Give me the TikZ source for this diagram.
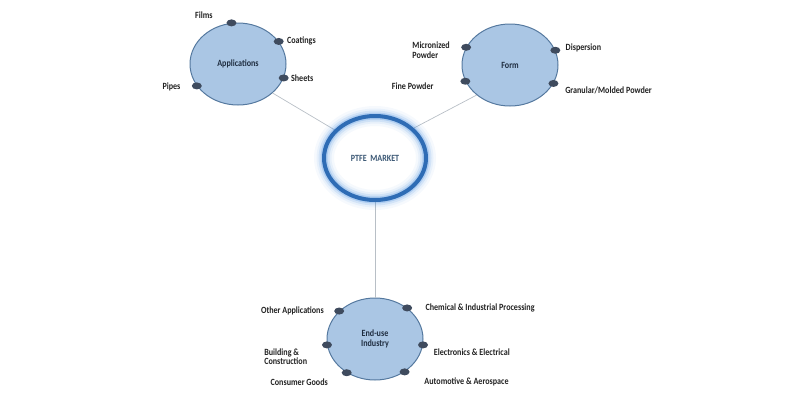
\documentclass[tikz,border=0pt]{standalone}
\usepackage{fontspec}
\setmainfont{Carlito}[FakeStretch=0.85]
\usetikzlibrary{positioning,shapes.geometric}

\definecolor{bubble}{HTML}{AAC6E4}
\definecolor{rim}{HTML}{55799F}
\definecolor{pin}{HTML}{3F4B5E}
\definecolor{wire}{HTML}{B8BFC6}
\definecolor{ink}{HTML}{222222}
\definecolor{navy}{HTML}{1F2D40}
\definecolor{halo}{HTML}{4A8FE0}
\definecolor{ringblue}{HTML}{2E6CB5}
\definecolor{hub}{HTML}{3B5875}

\begin{document}
\begin{tikzpicture}[x=1pt, y=-1pt, node distance=4pt,
	seg/.style={ellipse, draw=rim, fill=bubble, line width=1pt, minimum width=96pt,
		minimum height=82pt, inner sep=0pt, text=navy, align=center,
		font=\bfseries\fontsize{9.5}{10.5}\selectfont},
	dot/.style={ellipse, fill=pin, minimum width=10pt, minimum height=7pt, inner sep=0pt},
	lbl/.style={inner sep=1pt, text=ink, align=left, font=\bfseries\fontsize{9.5}{10.5}\selectfont},
	link/.style={draw=wire, line width=0.7pt}]

	\useasboundingbox (0,0) rectangle (800,400);

	% Circles {hub, applications, form, end-use}
	\node [ellipse, fill=white, minimum width=102pt, minimum height=84pt, text=hub,
		font=\bfseries\fontsize{9.5}{10.5}\selectfont] (ptfe) at (375,158) {PTFE\ \ MARKET};
	\node [seg] (app) at (238,64)  {Applications};
	\node [seg] (form) at (510,65) {Form};
	\node [seg] (eu)  at (375,339) {End-use\\Industry};

	% Paths
	\path [link] (app.-40)   -- (ptfe.145);
	\path [link] (form.222)  -- (ptfe.38);
	\path [link] (ptfe.south) -- (eu.north);

	% Glow round the hub
	\foreach \w/\o in {20/0.05, 15/0.08, 11/0.14, 7/0.25}
		\draw [halo, line width=\w pt, opacity=\o] (ptfe.center) ellipse [x radius=51, y radius=42];
	\draw [ringblue, line width=4pt] (ptfe.center) ellipse [x radius=51, y radius=42];

	% Dots on Applications
	\node [dot] (films) at (app.99)  {};
	\node [dot] (coat)  at (app.29)  {};
	\node [dot] (sheet) at (app.-17) {};
	\node [dot] (pipe)  at (app.208) {};
	\node [lbl] [above left=0pt and 14pt of films] {Films};
	\node [lbl] [right=2pt of coat]  {Coatings};
	\node [lbl] [right=1pt of sheet] {Sheets};
	\node [lbl, yshift=-1pt] [left=10pt of pipe]  {Pipes};

	% Dots on Form
	\node [dot] (micro) at (form.158) {};
	\node [dot] (fine)  at (form.200) {};
	\node [dot] (disp)  at (form.18)  {};
	\node [dot] (gran)  at (form.-23) {};
	\node [lbl, yshift=-3pt] [left=10pt of micro] {Micronized\\[-1pt]Powder};
	\node [lbl] [below left=-2pt and 27pt of fine] {Fine Powder};
	\node [lbl, yshift=2pt] [right=4pt of disp] {Dispersion};
	\node [lbl] [below right=0pt and 7pt of gran] {Granular/Molded Powder};

	% Dots on End-use
	\node [dot] (other) at (eu.142) {};
	\node [dot] (chem)  at (eu.44)  {};
	\node [dot] (build) at (eu.187) {};
	\node [dot] (elec)  at (eu.-7)  {};
	\node [dot] (cons)  at (eu.230) {};
	\node [dot] (auto)  at (eu.-48) {};
	\node [lbl] [left=9pt of other] {Other Applications};
	\node [lbl] [right=12pt of chem] {Chemical \& Industrial Processing};
	\node [lbl] [below left=0pt and 15pt of build] {Building \&\\[-1pt]Construction};
	\node [lbl] [below right=0pt and 6pt of elec] {Electronics \& Electrical};
	\node [lbl] [below left=2pt and 14pt of cons] {Consumer Goods};
	\node [lbl] [below right=2pt and 15pt of auto] {Automotive \& Aerospace};

\end{tikzpicture}
\end{document}
